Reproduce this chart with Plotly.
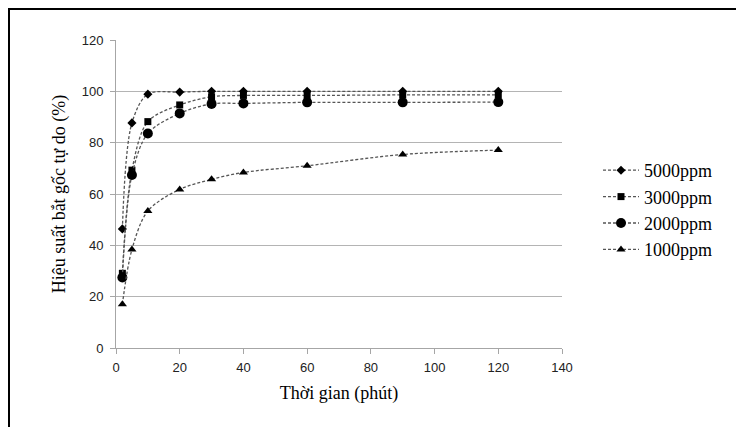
import plotly.graph_objects as go

time_min = [2, 5, 10, 20, 30, 40, 60, 90, 120]
eff_5000 = [46.4, 87.7, 98.9, 99.7, 100.0, 100.0, 100.0, 100.0, 100.0]
eff_3000 = [29.1, 69.3, 88.2, 94.7, 97.9, 98.4, 98.4, 98.6, 98.6]
eff_2000 = [27.5, 67.4, 83.6, 91.4, 95.1, 95.3, 95.7, 95.7, 95.8]
eff_1000 = [17.0, 38.4, 53.4, 61.8, 65.7, 68.4, 71.0, 75.4, 77.1]

series_names = ["5000ppm", "3000ppm", "2000ppm", "1000ppm"]
series_vals = [eff_5000, eff_3000, eff_2000, eff_1000]
symbols = ["diamond", "square", "circle", "triangle-up"]
sizes = [7, 7, 10, 8]

x_ticks = [0, 20, 40, 60, 80, 100, 120, 140]
y_ticks = [0, 20, 40, 60, 80, 100, 120]

serif = "Liberation Serif, Times New Roman, serif"
narrow = "Liberation Sans Narrow, Liberation Sans, Arial, sans-serif"

fig = go.Figure()
for name, vals, sym, sz in zip(series_names, series_vals, symbols, sizes):
    fig.add_trace(go.Scatter(
        x=time_min, y=vals, name=name, mode="lines+markers",
        line=dict(color="#555555", width=1.3, dash="3px,2px", shape="spline", smoothing=0.9),
        marker=dict(symbol=sym, size=sz, color="black"),
    ))

# page is offset by the 8px body margin
OFF = 8
W, H = 736, 419
L, T = 116 - OFF, 40 - OFF
R = W - (562 - OFF)
B = H - (348 - OFF)
pw, ph = W - L - R, H - T - B

def px(xpage):
    return (xpage - OFF - L) / pw

def py(ypage):
    return (H - B - (ypage - OFF)) / ph

fig.update_layout(
    width=W, height=H,
    margin=dict(l=L, r=R, t=T, b=B, pad=0, autoexpand=False),
    paper_bgcolor="white", plot_bgcolor="white",
    showlegend=True,
    legend=dict(
        x=px(598), y=py(210), xanchor="left", yanchor="middle",
        font=dict(family=serif, size=18, color="black"),
        bgcolor="rgba(0,0,0,0)", itemwidth=36, tracegroupgap=0,
    ),
    xaxis=dict(
        range=[0, 140], tickvals=x_ticks, ticktext=[str(v) for v in x_ticks],
        showgrid=False, zeroline=False,
        showline=True, linecolor="#a6a6a6", linewidth=1,
        ticks="outside", ticklen=5, tickcolor="#a6a6a6",
        ticklabelstandoff=2,
        tickfont=dict(family=narrow, size=13, color="#222"),
        title=dict(text="Thời gian (phút)", font=dict(family=serif, size=18, color="black"), standoff=12),
    ),
    yaxis=dict(
        range=[0, 120], tickvals=y_ticks, ticktext=[str(v) for v in y_ticks],
        showgrid=True, gridcolor="#b4b4b4", gridwidth=1, zeroline=False,
        showline=True, linecolor="#a6a6a6", linewidth=1,
        ticks="outside", ticklen=5, tickcolor="#a6a6a6",
        ticklabelstandoff=4,
        tickfont=dict(family=narrow, size=13, color="#222"),
        title=dict(text="Hiệu suất bắt gốc tự do (%)", font=dict(family=serif, size=18, color="black"), standoff=11),
    ),
    shapes=[
        dict(type="line", xref="paper", yref="paper", x0=px(8), x1=px(W + 20), y0=py(9), y1=py(9),
             line=dict(color="black", width=2)),
        dict(type="line", xref="paper", yref="paper", x0=px(9), x1=px(9), y0=py(8), y1=py(H + 20),
             line=dict(color="black", width=2)),
    ],
)

fig.write_html("out.html")
